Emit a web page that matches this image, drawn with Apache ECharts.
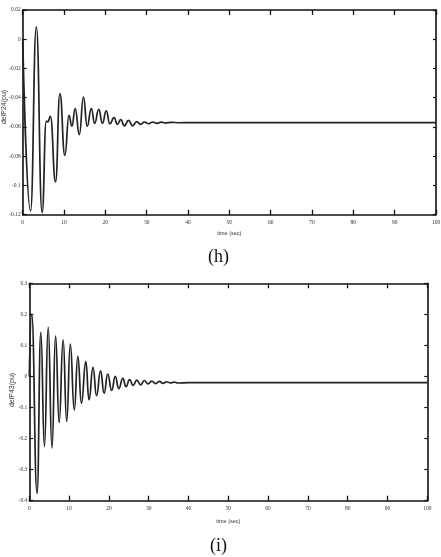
<!DOCTYPE html>
<html>
<head>
<meta charset="utf-8">
<script src="https://cdn.jsdelivr.net/npm/echarts@6/dist/echarts.min.js"></script>
<style>
html,body{margin:0;padding:0;background:#fff;}
#chart{width:441px;height:557px;}
</style>
</head>
<body>
<div id="chart"></div>
<script>
// Panel (h): delP24 (pu) vs time (sec) — turning points
var timeH = [0, 1.9, 3.3, 4.7, 5.7, 6.1, 6.7, 7.95, 9.0, 10.2, 11.2, 11.9, 12.7, 13.7, 14.7, 15.6, 16.6, 17.4, 18.4, 19.3, 20.2, 21.1, 22.1, 22.9, 23.7, 24.6, 25.6, 26.6, 27.6, 28.5, 29.5, 30.4, 31.5, 32.5, 33.5, 34.5, 36, 38, 40, 100];
var valueH = [0, -0.1174, 0.0084, -0.1186, -0.0560, -0.0565, -0.0527, -0.0976, -0.0372, -0.0794, -0.0520, -0.0595, -0.0474, -0.0652, -0.0395, -0.0595, -0.0474, -0.0575, -0.0480, -0.0575, -0.0490, -0.0578, -0.0536, -0.0582, -0.0550, -0.0592, -0.0555, -0.0592, -0.0563, -0.0582, -0.0566, -0.0578, -0.0566, -0.0575, -0.0567, -0.0573, -0.0568, -0.0571, -0.0570, -0.0570];

// Panel (i): delP43 (pu) vs time (sec)
var timeI = [0, 0.6, 1.95, 2.9, 3.8, 4.75, 5.7, 6.6, 7.5, 8.5, 9.4, 10.3, 11.3, 12.2, 13.1, 14.2, 15.0, 16.0, 16.9, 17.9, 18.8, 19.7, 20.7, 21.6, 22.5, 23.5, 24.3, 25.2, 26.1, 27.0, 28.0, 28.9, 29.8, 30.8, 31.7, 32.7, 33.6, 34.5, 35.5, 36.4, 37.3, 40, 100];
var valueI = [0, 0.201, -0.376, 0.142, -0.226, 0.159, -0.231, 0.131, -0.148, 0.118, -0.145, 0.104, -0.108, 0.065, -0.086, 0.048, -0.075, 0.029, -0.062, 0.018, -0.054, 0.008, -0.045, 0.000, -0.039, -0.006, -0.033, -0.010, -0.029, -0.012, -0.027, -0.013, -0.024, -0.015, -0.023, -0.016, -0.022, -0.017, -0.021, -0.018, -0.021, -0.020, -0.020];

// Axis ranges / tick spacing
var xRange = [0, 100, 10];
var yRangeH = [-0.12, 0.02, 0.02];
var yRangeI = [-0.4, 0.3, 0.1];

var titleH = 'delP24(pu)';
var titleI = 'delP43(pu)';
var xTitle = 'time (sec)';
var captions = ['(h)', '(i)'];

function pairs(t, v) { return t.map(function (x, i) { return [x, v[i]]; }); }
function fmt(v) { var r = Math.round(v * 100) / 100; return String(r); }

var serif = '"Liberation Serif", "DejaVu Serif", serif';
var sans = '"Liberation Sans", "DejaVu Sans", sans-serif';
var lineStyle = { color: '#111', width: 1.6 };

function xAx(grid, pos, showLabel, gap) {
  return {
    type: 'value', gridIndex: grid, position: pos,
    min: xRange[0], max: xRange[1], interval: xRange[2],
    axisLine: { show: true, onZero: false, lineStyle: lineStyle },
    axisTick: { show: true, inside: true, length: 5, lineStyle: { color: '#111', width: 1.3 } },
    axisLabel: { show: showLabel, fontFamily: serif, fontSize: 5.5, color: '#333', margin: 5 },
    splitLine: { show: false },
    name: showLabel ? xTitle : '', nameLocation: 'middle', nameGap: gap,
    nameTextStyle: { fontFamily: sans, fontSize: 5.5, color: '#333' }
  };
}
function yAx(grid, pos, range, showLabel) {
  return {
    type: 'value', gridIndex: grid, position: pos,
    min: range[0], max: range[1], interval: range[2],
    axisLine: { show: true, onZero: false, lineStyle: lineStyle },
    axisTick: { show: true, inside: true, length: showLabel ? 4 : 3, lineStyle: { color: '#111', width: 1.2 } },
    axisLabel: { show: showLabel, fontFamily: serif, fontSize: 5.5, color: '#333', margin: 2, formatter: fmt },
    splitLine: { show: false }
  };
}

var chart = echarts.init(document.getElementById('chart'), null, { renderer: 'canvas' });
chart.setOption({
  backgroundColor: '#fff',
  animation: false,
  grid: [
    { left: 22.7, top: 10, width: 413.3, height: 204.7, containLabel: false, outerBoundsMode: 'none' },
    { left: 29.3, top: 283.3, width: 398, height: 217.4, containLabel: false, outerBoundsMode: 'none' }
  ],
  xAxis: [
    xAx(0, 'bottom', true, 16),
    xAx(0, 'top', false, 0),
    xAx(1, 'bottom', true, 18),
    xAx(1, 'top', false, 0)
  ],
  yAxis: [
    yAx(0, 'left', yRangeH, true),
    yAx(0, 'right', yRangeH, false),
    yAx(1, 'left', yRangeI, true),
    yAx(1, 'right', yRangeI, false)
  ],
  series: [
    {
      type: 'line', xAxisIndex: 0, yAxisIndex: 0,
      data: pairs(timeH, valueH), showSymbol: false,
      smooth: 0.5, smoothMonotone: 'x',
      lineStyle: { color: '#222', width: 1.7 }
    },
    {
      type: 'line', xAxisIndex: 2, yAxisIndex: 2,
      data: pairs(timeI, valueI), showSymbol: false,
      smooth: 0.5, smoothMonotone: 'x',
      lineStyle: { color: '#222', width: 1.7 }
    }
  ],
  graphic: [
    { type: 'text', x: 4, y: 107, rotation: Math.PI / 2,
      style: { text: titleH, font: '7px ' + sans, fill: '#333', align: 'center', verticalAlign: 'middle' } },
    { type: 'text', x: 12, y: 390, rotation: Math.PI / 2,
      style: { text: titleI, font: '7px ' + sans, fill: '#333', align: 'center', verticalAlign: 'middle' } },
    { type: 'text', left: 217 - 9, top: 248, style: { text: captions[0], font: '18px ' + serif, fill: '#111' } },
    { type: 'text', left: 217 - 7, top: 537, style: { text: captions[1], font: '18px ' + serif, fill: '#111' } }
  ]
});
</script>
</body>
</html>
